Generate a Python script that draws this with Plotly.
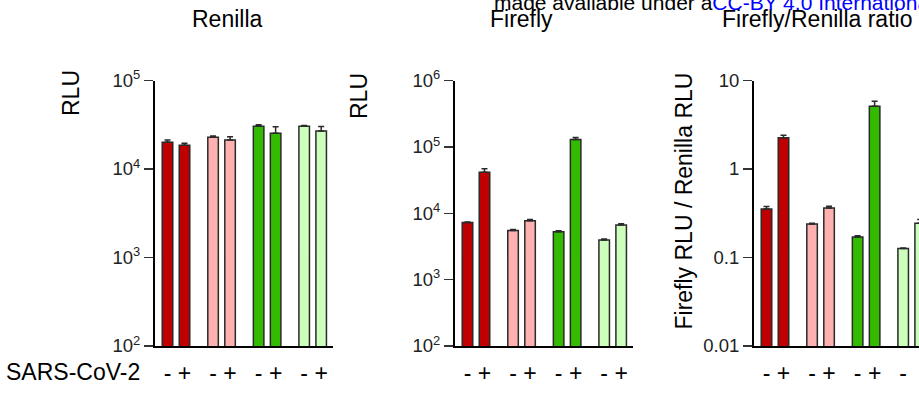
import plotly.graph_objects as go

# ---------------- data ----------------
conditions = ["-", "+", "-", "+", "-", "+", "-", "+"]
group_index = [0, 0, 1, 1, 2, 2, 3, 3]
bar_colors = ["#C00000", "#C00000", "#FFB1B1", "#FFB1B1",
              "#33BB00", "#33BB00", "#CCFFBB", "#CCFFBB"]

renilla = [20100, 18500, 22800, 21200, 30500, 25400, 30500, 26800]
renilla_err = [1100, 1100, 800, 2000, 1100, 4600, 600, 3500]

firefly = [7260, 41300, 5500, 7710, 5260, 128600, 3940, 6640]
firefly_err = [150, 5600, 190, 350, 180, 9300, 140, 300]

ratio = [0.353, 2.26, 0.239, 0.362, 0.170, 5.11, 0.126, 0.244]
ratio_err = [0.023, 0.14, 0.004, 0.017, 0.006, 0.71, 0.002, 0.025]

renilla_ticks = [1e2, 1e3, 1e4, 1e5]
renilla_ticktext = ["10<sup>2</sup>", "10<sup>3</sup>", "10<sup>4</sup>", "10<sup>5</sup>"]
firefly_ticks = [1e2, 1e3, 1e4, 1e5, 1e6]
firefly_ticktext = ["10<sup>2</sup>", "10<sup>3</sup>", "10<sup>4</sup>",
                    "10<sup>5</sup>", "10<sup>6</sup>"]
ratio_ticks = [0.01, 0.1, 1, 10]
ratio_ticktext = ["0.01", "0.1", "1", "10"]

panel_titles = ["Renilla", "Firefly", "Firefly/Renilla ratio"]

# ---------------- layout helpers ----------------
W, H = 919, 394
FONT = "Liberation Sans, Arial, sans-serif"
GROUP_GAP = 2.68
xpos = [g * GROUP_GAP + (0 if c == "-" else 1) for g, c in zip(group_index, conditions)]

PX_PER_UNIT = 17.0
X0 = -0.735


def px_x(p):
    return p / W


def px_y(p):
    return 1 - p / H


fig = go.Figure()

panels = [
    (renilla, renilla_err, "x", "y"),
    (firefly, firefly_err, "x2", "y2"),
    (ratio, ratio_err, "x3", "y3"),
]
for vals, errs, xa, ya in panels:
    fig.add_trace(go.Bar(
        x=xpos, y=vals, xaxis=xa, yaxis=ya, width=0.62,
        marker=dict(color=bar_colors, line=dict(color="#2a2a2a", width=1.5)),
        error_y=dict(type="data", symmetric=False, array=errs,
                     arrayminus=[0] * len(errs), color="#2a2a2a",
                     thickness=1.5, width=3),
        showlegend=False, hoverinfo="skip",
    ))

ydom = [px_y(346), px_y(80.5)]

common_x = dict(
    tickmode="array", tickvals=xpos, ticktext=conditions,
    showline=True, linecolor="black", linewidth=2,
    showgrid=False, zeroline=False, ticks="",
    tickfont=dict(family=FONT, size=23, color="black"),
    ticklabelstandoff=5, automargin=False,
)
common_y = dict(
    type="log", showline=True, linecolor="black", linewidth=2,
    showgrid=False, zeroline=False, ticks="outside", ticklen=9,
    tickwidth=1.5, tickcolor="#333",
    tickfont=dict(family=FONT, size=18.5, color="#222"),
    tickmode="array", domain=ydom, automargin=False,
)

span = (333 - 155) / PX_PER_UNIT
fig.update_layout(
    template="none",
    width=W, height=H,
    margin=dict(l=0, r=0, t=0, b=0, pad=0, autoexpand=False),
    paper_bgcolor="white", plot_bgcolor="white",
    font=dict(family=FONT, color="black"),
    xaxis=dict(domain=[px_x(155), px_x(333)], range=[X0, X0 + span], anchor="y", **common_x),
    xaxis2=dict(domain=[px_x(455), px_x(633)], range=[X0, X0 + span], anchor="y2", **common_x),
    xaxis3=dict(domain=[px_x(754), 1.0], range=[X0, X0 + (W - 754) / PX_PER_UNIT], anchor="y3", **common_x),
    yaxis=dict(anchor="x", range=[2, 5], tickvals=renilla_ticks, ticktext=renilla_ticktext, **common_y),
    yaxis2=dict(anchor="x2", range=[2, 6], tickvals=firefly_ticks, ticktext=firefly_ticktext, **common_y),
    yaxis3=dict(anchor="x3", range=[-2, 1], tickvals=ratio_ticks, ticktext=ratio_ticktext, **common_y),
)

ann = []
# panel titles
for title, cx in zip(panel_titles, [227, 521.5, 816.7]):
    ann.append(dict(text=title, x=px_x(cx), y=px_y(19), xref="paper", yref="paper",
                    xanchor="center", yanchor="middle", showarrow=False,
                    font=dict(family=FONT, size=23, color="black")))
# y titles
for text, cx, cy in [("RLU", 71, 93), ("RLU", 359, 96),
                     ("Firefly RLU / Renilla RLU", 684, 201.5)]:
    ann.append(dict(text=text, x=px_x(cx), y=px_y(cy), xref="paper", yref="paper",
                    xanchor="center", yanchor="middle", textangle=-90, showarrow=False,
                    font=dict(family=FONT, size=23, color="black")))
# row label
ann.append(dict(text="SARS-CoV-2", x=px_x(4), y=px_y(372), xref="paper", yref="paper",
                xanchor="left", yanchor="middle", showarrow=False,
                font=dict(family=FONT, size=23, color="black")))
# watermark fragment
ann.append(dict(text="made available under a<span style='color:#0000FF'>CC-BY 4.0 International license.</span>",
                x=px_x(492), y=px_y(3), xref="paper", yref="paper",
                xanchor="left", yanchor="middle", showarrow=False,
                font=dict(family=FONT, size=21, color="black")))
fig.update_layout(annotations=ann)

fig.write_html("out.html",
               config={"displayModeBar": False, "staticPlot": True},
               post_script="document.body.style.margin='0';document.body.style.overflow='hidden';")
